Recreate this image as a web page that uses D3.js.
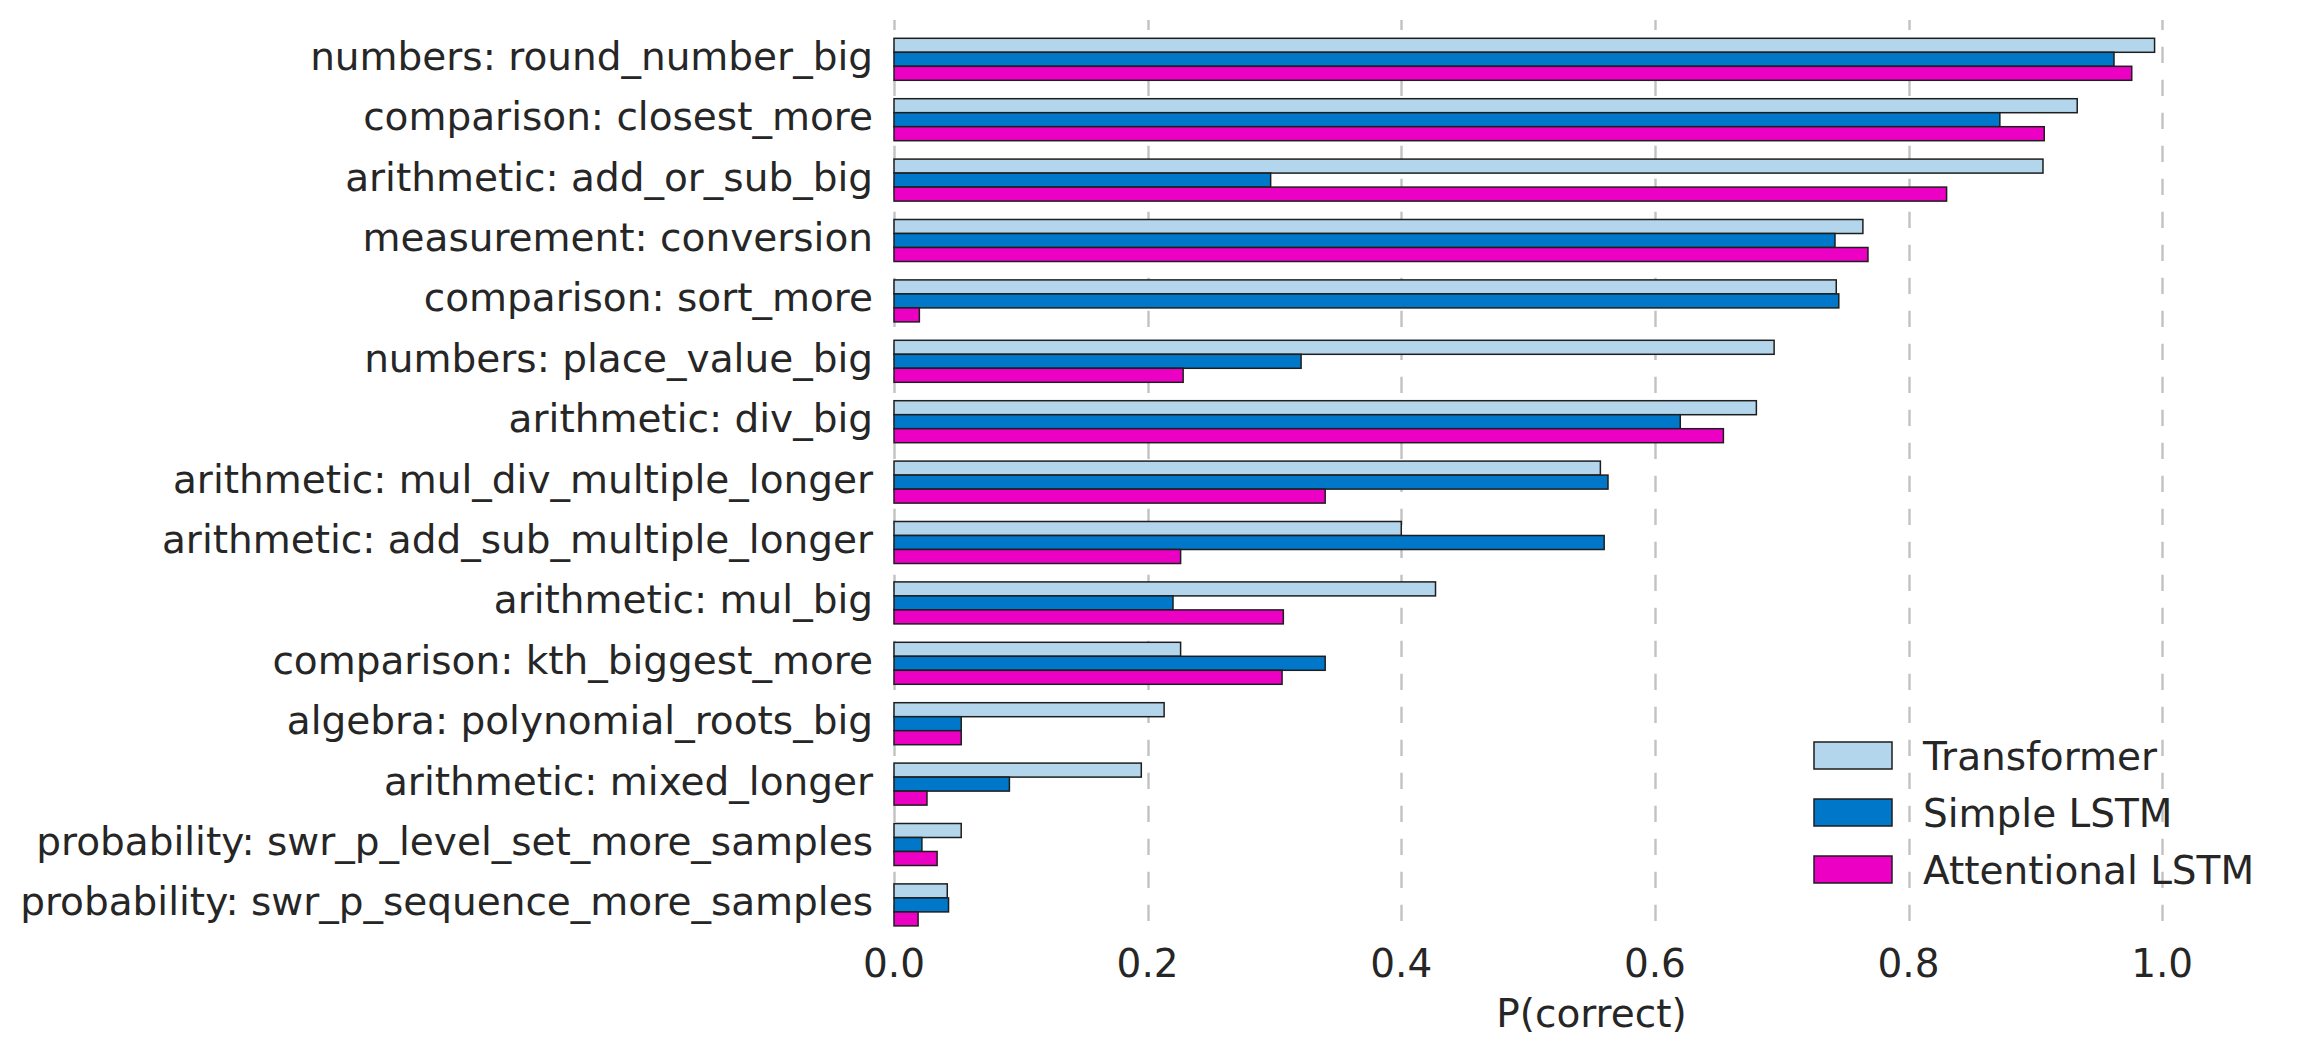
<!DOCTYPE html>
<html>
<head>
<meta charset="utf-8">
<script src="https://cdn.jsdelivr.net/npm/d3@7"></script>
<style>
  html, body { margin: 0; padding: 0; background: #ffffff; }
  svg { display: block; }
  text { font-family: "DejaVu Sans", sans-serif; fill: #262626; }
</style>
</head>
<body>
<script>
const categories = [
  "numbers: round_number_big",
  "comparison: closest_more",
  "arithmetic: add_or_sub_big",
  "measurement: conversion",
  "comparison: sort_more",
  "numbers: place_value_big",
  "arithmetic: div_big",
  "arithmetic: mul_div_multiple_longer",
  "arithmetic: add_sub_multiple_longer",
  "arithmetic: mul_big",
  "comparison: kth_biggest_more",
  "algebra: polynomial_roots_big",
  "arithmetic: mixed_longer",
  "probability: swr_p_level_set_more_samples",
  "probability: swr_p_sequence_more_samples"
];
const seriesNames = ["Transformer", "Simple LSTM", "Attentional LSTM"];
const transformer = [0.994, 0.933, 0.906, 0.764, 0.743, 0.694, 0.680, 0.557, 0.400, 0.427, 0.226, 0.213, 0.195, 0.053, 0.042];
const simpleLSTM  = [0.962, 0.872, 0.297, 0.742, 0.745, 0.321, 0.620, 0.563, 0.560, 0.220, 0.340, 0.053, 0.091, 0.022, 0.043];
const attentionalLSTM = [0.976, 0.907, 0.830, 0.768, 0.020, 0.228, 0.654, 0.340, 0.226, 0.307, 0.306, 0.053, 0.026, 0.034, 0.019];
const xTicks = [0.0, 0.2, 0.4, 0.6, 0.8, 1.0];
const xLabel = "P(correct)";
const colors = ["#b3d6ec", "#0077c8", "#ec00c4"];

const W = 2308, H = 1056;
const FS = 39;
const values = [transformer, simpleLSTM, attentionalLSTM];

const svg = d3.select("body").append("svg").attr("width", W).attr("height", H);

const x = d3.scaleLinear().domain([0, 1.1]).range([894, 2289]);
const plotTop = 20, plotBottom = 927;

const y = d3.scaleBand().domain(categories).range([38.3, 925.9]).paddingInner(0.3046).paddingOuter(0);
const ySub = d3.scaleBand().domain(seriesNames).range([0, y.bandwidth()]).padding(0);
const color = d3.scaleOrdinal().domain(seriesNames).range(colors);

// grid lines (drawn bottom to top)
svg.append("g").selectAll("line").data(xTicks).join("line")
  .attr("x1", d => Math.round(x(d)) + 0.5).attr("x2", d => Math.round(x(d)) + 0.5)
  .attr("y1", plotBottom).attr("y2", plotTop)
  .attr("stroke", "#c2c2c2").attr("stroke-width", 2.4)
  .attr("stroke-dasharray", "16.3,16.7").attr("stroke-dashoffset", 27);

// bars
const rows = categories.map((c, i) => ({ cat: c, vals: seriesNames.map((s, k) => ({ s, v: values[k][i] })) }));
const g = svg.append("g").selectAll("g").data(rows).join("g")
  .attr("transform", d => `translate(0,${y(d.cat)})`);
g.selectAll("rect").data(d => d.vals).join("rect")
  .attr("x", x(0))
  .attr("y", d => ySub(d.s))
  .attr("width", d => x(d.v) - x(0))
  .attr("height", ySub.bandwidth())
  .attr("fill", d => color(d.s))
  .attr("stroke", "#1e1e1e").attr("stroke-width", 1.5);

// y labels
svg.append("g").selectAll("text").data(categories).join("text")
  .attr("x", 873).attr("y", d => y(d) + y.bandwidth() / 2)
  .attr("dy", "0.27em")
  .attr("text-anchor", "end").attr("font-size", FS)
  .text(d => d);

// x tick labels
svg.append("g").selectAll("text").data(xTicks).join("text")
  .attr("x", d => x(d)).attr("y", 977)
  .attr("text-anchor", "middle").attr("font-size", FS)
  .text(d => d3.format(".1f")(d));

// x axis label
svg.append("text")
  .attr("x", (x.range()[0] + x.range()[1]) / 2).attr("y", 1027)
  .attr("text-anchor", "middle").attr("font-size", FS)
  .text(xLabel);

// legend
const legend = svg.append("g").selectAll("g").data(seriesNames).join("g")
  .attr("transform", (d, i) => `translate(1814,${742 + i * 57})`);
legend.append("rect").attr("width", 78).attr("height", 27)
  .attr("fill", d => color(d)).attr("stroke", "#1e1e1e").attr("stroke-width", 1.5);
legend.append("text").attr("x", 109).attr("y", 28).attr("font-size", FS).text(d => d);
</script>
</body>
</html>
